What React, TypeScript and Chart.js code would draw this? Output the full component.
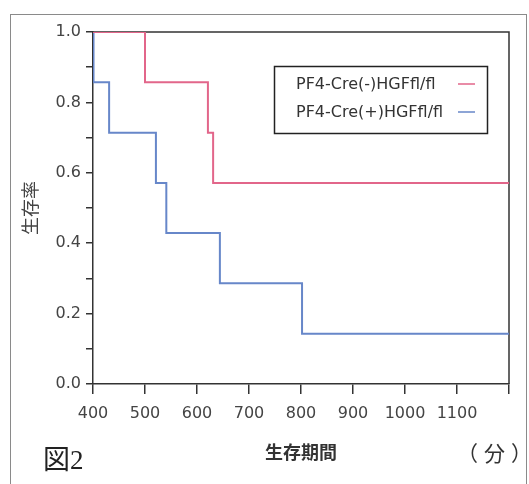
import { useEffect, useRef } from 'react';
import { Chart, registerables } from 'chart.js';

Chart.register(...registerables);

// ---- data ----
const seriesNames = ['PF4-Cre(-)HGFfl/fl', 'PF4-Cre(+)HGFfl/fl'];
const negTimes = [400, 500, 621, 631, 1200];
const negSurvival = [1.0, 0.857, 0.714, 0.571, 0.571];
const posTimes = [400, 401, 431, 521, 541, 644, 802, 1200];
const posSurvival = [1.0, 0.857, 0.714, 0.571, 0.429, 0.286, 0.143, 0.143];
const xTickLabels = ['400', '500', '600', '700', '800', '900', '1000', '1100', ''];
const yTickLabels = ['0.0', '', '0.2', '', '0.4', '', '0.6', '', '0.8', '', '1.0'];
const xTitle = '生存期間';
const yTitle = '生存率';
const figLabel = '図2';
const unitLabel = '（分）';

const lineColors = ['#e2668a', '#6787c9'];
const axisColor = '#333333';
const textColor = '#444444';

const framePlugin = {
  id: 'frameBox',
  beforeDatasetsDraw(chart: any) {
    const { ctx, chartArea } = chart;
    ctx.save();
    ctx.strokeStyle = axisColor;
    ctx.lineWidth = 1.5;
    ctx.beginPath();
    ctx.moveTo(chartArea.left, chartArea.top);
    ctx.lineTo(chartArea.right, chartArea.top);
    ctx.lineTo(chartArea.right, chartArea.bottom);
    ctx.stroke();
    ctx.restore();
  },
};

const boxLegendPlugin = {
  id: 'boxLegend',
  afterDatasetsDraw(chart: any) {
    const { ctx } = chart;
    ctx.save();
    ctx.fillStyle = '#ffffff';
    ctx.fillRect(274.5, 66.5, 213, 67);
    ctx.strokeStyle = '#222222';
    ctx.lineWidth = 1.5;
    ctx.strokeRect(274.5, 66.5, 213, 67);
    ctx.font = '16px "DejaVu Sans"';
    ctx.textBaseline = 'middle';
    ctx.textAlign = 'left';
    chart.data.datasets.forEach((ds: any, i: number) => {
      const y = 85 + i * 28;
      ctx.fillStyle = '#333333';
      ctx.fillText(ds.label, 296, y);
      ctx.strokeStyle = ds.borderColor;
      ctx.lineWidth = 1.5;
      ctx.beginPath();
      ctx.moveTo(458, y - 1);
      ctx.lineTo(475, y - 1);
      ctx.stroke();
    });
    ctx.restore();
  },
};

export default function App() {
  const canvasRef = useRef<HTMLCanvasElement | null>(null);

  useEffect(() => {
    if (!canvasRef.current) return;
    const chart = new Chart(canvasRef.current, {
      type: 'line',
      data: {
        datasets: [
          {
            label: seriesNames[0],
            data: negTimes.map((t, i) => ({ x: t, y: negSurvival[i] })),
            borderColor: lineColors[0],
            borderWidth: 2,
            pointRadius: 0,
            stepped: 'before',
            fill: false,
          },
          {
            label: seriesNames[1],
            data: posTimes.map((t, i) => ({ x: t, y: posSurvival[i] })),
            borderColor: lineColors[1],
            borderWidth: 2,
            pointRadius: 0,
            stepped: 'before',
            fill: false,
          },
        ],
      },
      options: {
        animation: false,
        responsive: false,
        devicePixelRatio: 1,
        layout: { padding: { left: 0, top: 32, right: 20, bottom: 0 } },
        plugins: {
          legend: { display: false },
          tooltip: { enabled: false },
        },
        scales: {
          x: {
            type: 'linear',
            min: 400,
            max: 1200,
            afterFit: (s: any) => {
              s.height = 100;
            },
            ticks: {
              stepSize: 100,
              autoSkip: false,
              maxRotation: 0,
              padding: 10,
              color: textColor,
              font: { family: 'DejaVu Sans', size: 16 },
              callback: (_v: any, i: number) => xTickLabels[i],
            },
            grid: {
              drawOnChartArea: false,
              drawTicks: true,
              tickLength: 10,
              color: axisColor,
              lineWidth: 1.5,
            },
            border: { display: true, color: axisColor, width: 1.5 },
            title: {
              display: true,
              text: xTitle,
              color: '#333333',
              font: { family: 'Noto Sans CJK JP', size: 18, weight: 'bold' },
              padding: { top: 0, bottom: 21 },
            },
          },
          y: {
            type: 'linear',
            min: 0,
            max: 1,
            afterFit: (s: any) => {
              s.width = 93;
            },
            ticks: {
              stepSize: 0.1,
              autoSkip: false,
              padding: 5,
              color: textColor,
              font: { family: 'DejaVu Sans', size: 16 },
              callback: (_v: any, i: number) => yTickLabels[i],
            },
            grid: {
              drawOnChartArea: false,
              drawTicks: true,
              tickLength: 7,
              color: axisColor,
              lineWidth: 1.5,
            },
            border: { display: true, color: axisColor, width: 1.5 },
            title: {
              display: true,
              text: yTitle,
              color: '#444444',
              font: { family: 'Noto Sans CJK JP', size: 18 },
              padding: { top: 19, bottom: 0 },
            },
          },
        },
      },
      plugins: [framePlugin, boxLegendPlugin],
    });
    return () => chart.destroy();
  }, []);

  return (
    <div style={{ position: 'fixed', left: 0, top: 0, width: 529, height: 484, background: '#ffffff', overflow: 'hidden' }}>
      <div
        style={{
          position: 'absolute',
          left: 10,
          top: 14,
          width: 517,
          height: 520,
          borderTop: '1.5px solid #8a8a8a',
          borderLeft: '1.5px solid #8a8a8a',
          borderRight: '1.5px solid #8a8a8a',
          boxSizing: 'border-box',
        }}
      />
      <canvas ref={canvasRef} width={529} height={484} style={{ position: 'absolute', left: 0, top: 0, width: 529, height: 484 }} />
      <span
        style={{
          position: 'absolute',
          left: 43,
          top: 446,
          fontFamily: '"Liberation Serif", "Noto Sans CJK JP"',
          fontSize: 27,
          lineHeight: '28px',
          color: '#222222',
          whiteSpace: 'nowrap',
        }}
      >
        {figLabel}
      </span>
      <span
        style={{
          position: 'absolute',
          left: 457,
          top: 440,
          fontFamily: '"Noto Sans CJK JP"',
          fontSize: 21,
          lineHeight: '24px',
          letterSpacing: '6px',
          color: '#333333',
          whiteSpace: 'nowrap',
        }}
      >
        {unitLabel}
      </span>
    </div>
  );
}
